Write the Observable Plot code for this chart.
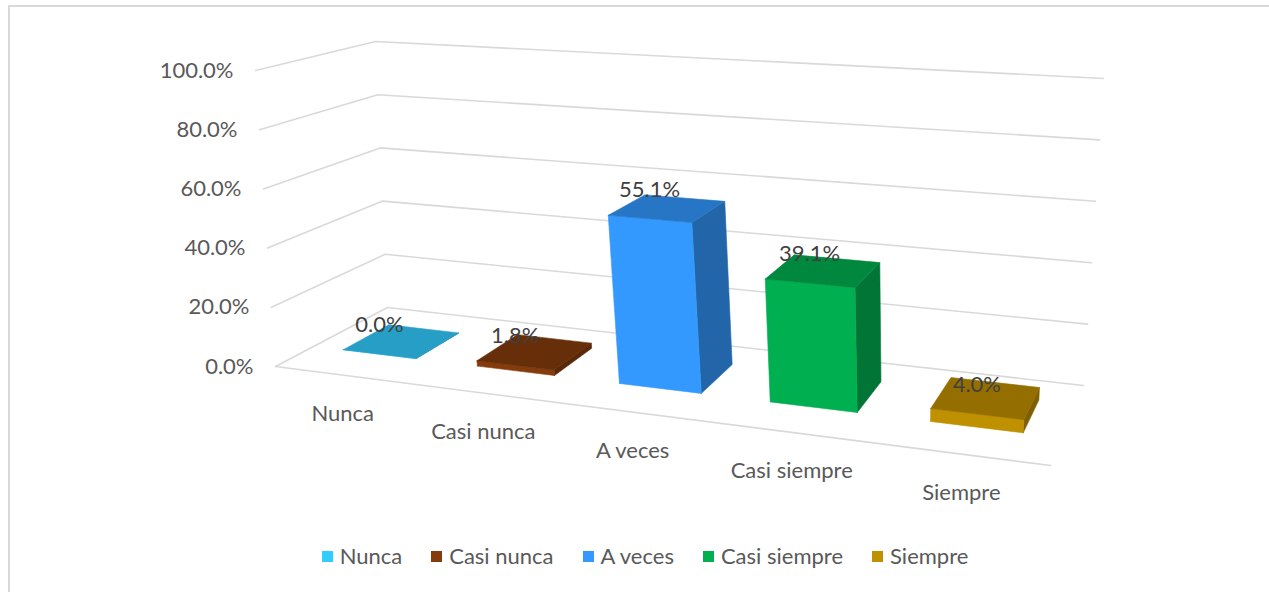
<!DOCTYPE html>
<html><head><meta charset="utf-8">
<script src="https://cdn.jsdelivr.net/npm/d3@7"></script>
<script src="https://cdn.jsdelivr.net/npm/@observablehq/plot@0.6"></script>
<style>
html,body{margin:0;padding:0;background:#fff;overflow:hidden;width:1269px;height:592px;}
#frame{position:absolute;left:8px;top:5px;width:1400px;height:700px;border-left:2px solid #d9d9d9;border-top:2px solid #d9d9d9;box-sizing:border-box;}
#chart{position:absolute;left:0;top:0;}
#legend{position:absolute;left:0;top:542px;width:1290px;display:flex;justify-content:center;font-family:Lato,sans-serif;font-size:22px;color:#595959;line-height:28px;}
.item{display:flex;align-items:center;margin:0 14.5px;}
.sw{width:11px;height:11px;margin-right:7px;}
</style></head><body>
<div id="frame"></div><div id="chart"></div><div id="legend"></div>
<script>
// ---- data ----
const categories = ["Nunca", "Casi nunca", "A veces", "Casi siempre", "Siempre"];
const values = [0.000, 0.018, 0.551, 0.391, 0.040];
const colors = ["#33CCFF", "#843C0C", "#3399FF", "#00B050", "#BF9000"];
const yTicks = [0, 0.2, 0.4, 0.6, 0.8, 1.0];

// ---- 3D frame (screen positions of the box corners) ----
const floorQ = [[275,366],[1050,465],[1083,385],[387,307]]; // FL, FR, BR, BL at 0%
const topQ   = [[255,70],[1071,122],[1103,78],[375,41]];    // FL, FR, BR, BL at 100%
const D0 = 0.32, D1 = 0.74;

function quad(p00,p10,p11,p01){
  const [x0,y0]=p00,[x1,y1]=p10,[x2,y2]=p11,[x3,y3]=p01;
  const dx1=x1-x2, dx2=x3-x2, dx3=x0-x1+x2-x3;
  const dy1=y1-y2, dy2=y3-y2, dy3=y0-y1+y2-y3;
  const den=dx1*dy2-dx2*dy1;
  const g=(dx3*dy2-dx2*dy3)/den, h=(dx1*dy3-dx3*dy1)/den;
  const a=x1-x0+g*x1, b=x3-x0+h*x3, d=y1-y0+g*y1, e=y3-y0+h*y3;
  return (u,v)=>{const w=g*u+h*v+1; return [(a*u+b*v+x0)/w,(d*u+e*v+y0)/w];};
}
const Hf = quad(...floorQ), Ht = quad(...topQ);
function P(c,d,h){const f=Hf(c,d), t=Ht(c,d); return [f[0]+(t[0]-f[0])*h, f[1]+(t[1]-f[1])*h];}

// library scales for category and value
const xs = Plot.scale({x:{type:"band", domain:categories, range:[0,1], paddingInner:0.45, paddingOuter:0.225}});
const ys = Plot.scale({y:{type:"linear", domain:[0,1], range:[0,1]}});
const bw = xs.bandwidth;

// gridlines
const grid = [];
yTicks.forEach((t,k)=>{
  const h = ys.apply(t);
  [P(0,0,h),P(0,1,h),P(1,1,h)].forEach(p=>grid.push({id:"g"+k,x:p[0],y:p[1]}));
});
[P(0,0,0),P(1,0,0)].forEach(p=>grid.push({id:"front",x:p[0],y:p[1]}));

// bar faces
const faces = [];
categories.forEach((cat,i)=>{
  const c0 = xs.apply(cat), c1 = c0+bw, v = ys.apply(values[i]);
  const base = d3.color(colors[i]);
  const sideC = base.darker(1.15).formatHex(), topC = base.darker(0.72).formatHex(), frontC = base.formatHex();
  const add=(name,pts,col)=>{[...pts,pts[0]].forEach(p=>faces.push({id:cat+name,x:p[0],y:p[1],col}));};
  add("side",[P(c1,D0,0),P(c1,D1,0),P(c1,D1,v),P(c1,D0,v)],sideC);
  add("front",[P(c0,D0,0),P(c1,D0,0),P(c1,D0,v),P(c0,D0,v)],frontC);
  add("top",[P(c0,D0,v),P(c1,D0,v),P(c1,D1,v),P(c0,D1,v)],topC);
});

const valueLabels = categories.map((cat,i)=>{const p=P(xs.apply(cat)+bw/2,D0,ys.apply(values[i])); return {x:p[0],y:p[1],t:d3.format(".1%")(values[i])};});
const catLabels = categories.map(cat=>{const p=P(xs.apply(cat)+bw/2,0,0); return {x:p[0],y:p[1],t:cat};});
const tickLabels = yTicks.map(t=>{const p=P(0,0,ys.apply(t)); return {x:p[0],y:p[1],t:d3.format(".1%")(t)};});

const chart = Plot.plot({
  width:1269, height:530, margin:0,
  x:{type:"identity", axis:null}, y:{type:"identity", axis:null},
  color:{type:"identity"},
  style:{fontFamily:"Lato, sans-serif", color:"#595959", background:"transparent", overflow:"visible"},
  marks:[
    Plot.line(grid,{x:"x",y:"y",z:"id",stroke:"#d9d9d9",strokeWidth:1.6}),
    Plot.line(faces,{x:"x",y:"y",z:"id",fill:"col",stroke:"col",strokeWidth:0.6}),
    Plot.text(tickLabels,{x:"x",y:"y",text:"t",dx:-22,textAnchor:"end",fontSize:22,fill:"#595959"}),
    Plot.text(catLabels,{x:"x",y:"y",text:"t",dy:39,fontSize:22,fill:"#595959"}),
    Plot.text(valueLabels,{x:"x",y:"y",text:"t",dy:-29,fontSize:22,fill:"#404040"})
  ]
});
document.getElementById("chart").appendChild(chart);

const lg = document.getElementById("legend");
categories.forEach((cat,i)=>{
  const it=document.createElement("div"); it.className="item";
  const sw=document.createElement("span"); sw.className="sw"; sw.style.background=colors[i];
  const tx=document.createElement("span"); tx.textContent=cat;
  it.appendChild(sw); it.appendChild(tx); lg.appendChild(it);
});
</script>
</body></html>
